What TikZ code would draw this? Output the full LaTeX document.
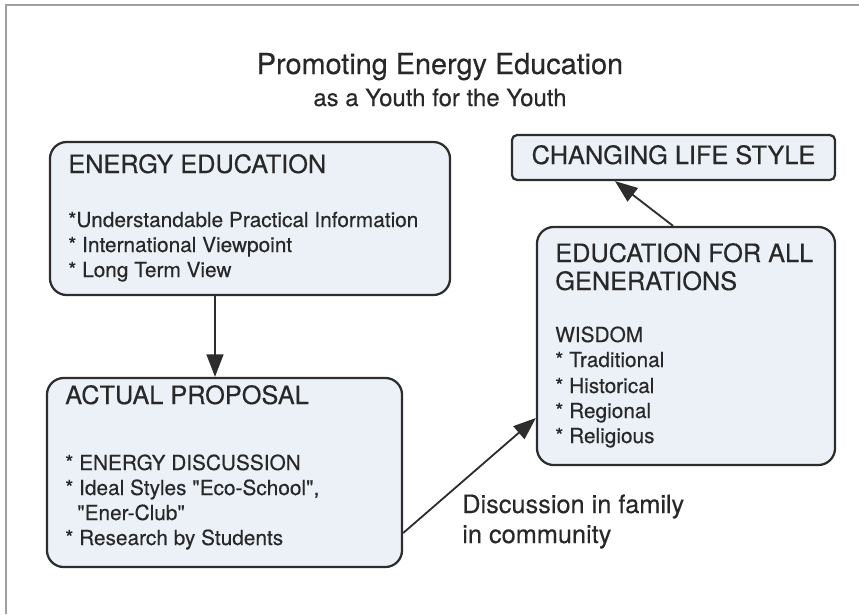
\documentclass[tikz,border=0pt]{standalone}
\usepackage{fontspec}
\setmainfont[FakeBold=0.35]{TeX Gyre Heros}
\usetikzlibrary{arrows.meta}

\definecolor{boxfill}{RGB}{236,241,248}
\definecolor{boxline}{RGB}{45,45,45}
\definecolor{inkgray}{RGB}{40,40,40}

\tikzset{
  panel/.style={draw=boxline, fill=boxfill, line width=1.6pt, rounded corners=0.42cm, inner sep=0pt},
  headtext/.style={font=\fontsize{18}{21}\selectfont, text=inkgray, anchor=base west, inner sep=0pt},
  itemtext/.style={font=\fontsize{14.8}{17}\selectfont, text=inkgray, anchor=base west, inner sep=0pt},
  flow/.style={draw=boxline, line width=1.3pt, -{Triangle[length=16pt, width=12pt]}}
}

\begin{document}
\begin{tikzpicture}[x=0.025cm, y=-0.025cm]
    \useasboundingbox (0,0) rectangle (859,614);

    % Page frame (top and left edge only)
    \draw[gray!75, line width=1.2pt] (6,614) -- (6,5) -- (859,5);

    % Title
    \node[font=\fontsize{20.5}{24}\selectfont, text=inkgray, anchor=base] (title) at (440,74) {Promoting Energy Education};
    \node[font=\fontsize{17}{20}\selectfont, text=inkgray, anchor=base] (subtitle) at (440,106) {as a Youth for the Youth};

    % Box 1: energy education
    \node[panel, minimum width=10cm, minimum height=3.825cm] (ee) at (250,218.5) {};
    \node[headtext] (eeHead) at (68,173) {ENERGY EDUCATION};
    \node[itemtext] (eeA) at (68,227) {*Understandable Practical Information};
    \node[itemtext] (eeB) at (68,252) {* International Viewpoint};
    \node[itemtext] (eeC) at (68,277) {* Long Term View};

    % Box 2: actual proposal
    \node[panel, minimum width=8.875cm, minimum height=4.725cm] (ap) at (224.5,472.5) {};
    \node[headtext] (apHead) at (65,404) {ACTUAL PROPOSAL};
    \node[itemtext] (apA) at (65,470) {* ENERGY DISCUSSION};
    \node[itemtext] (apB) at (65,495) {* Ideal Styles \textquotedbl Eco-School\textquotedbl,};
    \node[itemtext] (apC) at (77,520) {\textquotedbl Ener-Club\textquotedbl};
    \node[itemtext] (apD) at (65,545) {* Research by Students};

    % Box 3: education for all generations
    \node[panel, minimum width=7.45cm, minimum height=5.95cm] (eg) at (686,346) {};
    \node[headtext] (egHead) at (555,262) {EDUCATION FOR ALL};
    \node[headtext] (egHeadB) at (555,290) {GENERATIONS};
    \node[itemtext] (egW) at (555,342) {WISDOM};
    \node[itemtext] (egA) at (555,367) {* Traditional};
    \node[itemtext] (egB) at (555,393) {* Historical};
    \node[itemtext] (egC) at (555,418) {* Regional};
    \node[itemtext] (egD) at (555,443) {* Religious};

    % Box 4: changing life style
    \node[panel, rounded corners=0.13cm, minimum width=8.075cm, minimum height=1.125cm] (cl) at (673.5,157.5) {};
    \node[headtext, anchor=base] (clText) at (673.5,164) {CHANGING LIFE STYLE};

    % Label next to the rising arrow
    \node[headtext] (discA) at (462,513) {Discussion in family};
    \node[headtext] (discB) at (462,543) {in community};

    % Reference points for the arrow ends
    \coordinate (xDown) at (215,0);
    \coordinate (yOut) at (0,533);
    \coordinate (yIn) at (0,418);
    \coordinate (xUpFrom) at (673,0);
    \coordinate (xUpTo) at (615,0);

    % Arrows
    \draw[flow] (ee.south -| xDown) -- (ap.north -| xDown);
    \draw[flow] (ap.east |- yOut) -- (eg.west |- yIn);
    \draw[flow] (eg.north -| xUpFrom) -- (cl.south -| xUpTo);
\end{tikzpicture}
\end{document}
